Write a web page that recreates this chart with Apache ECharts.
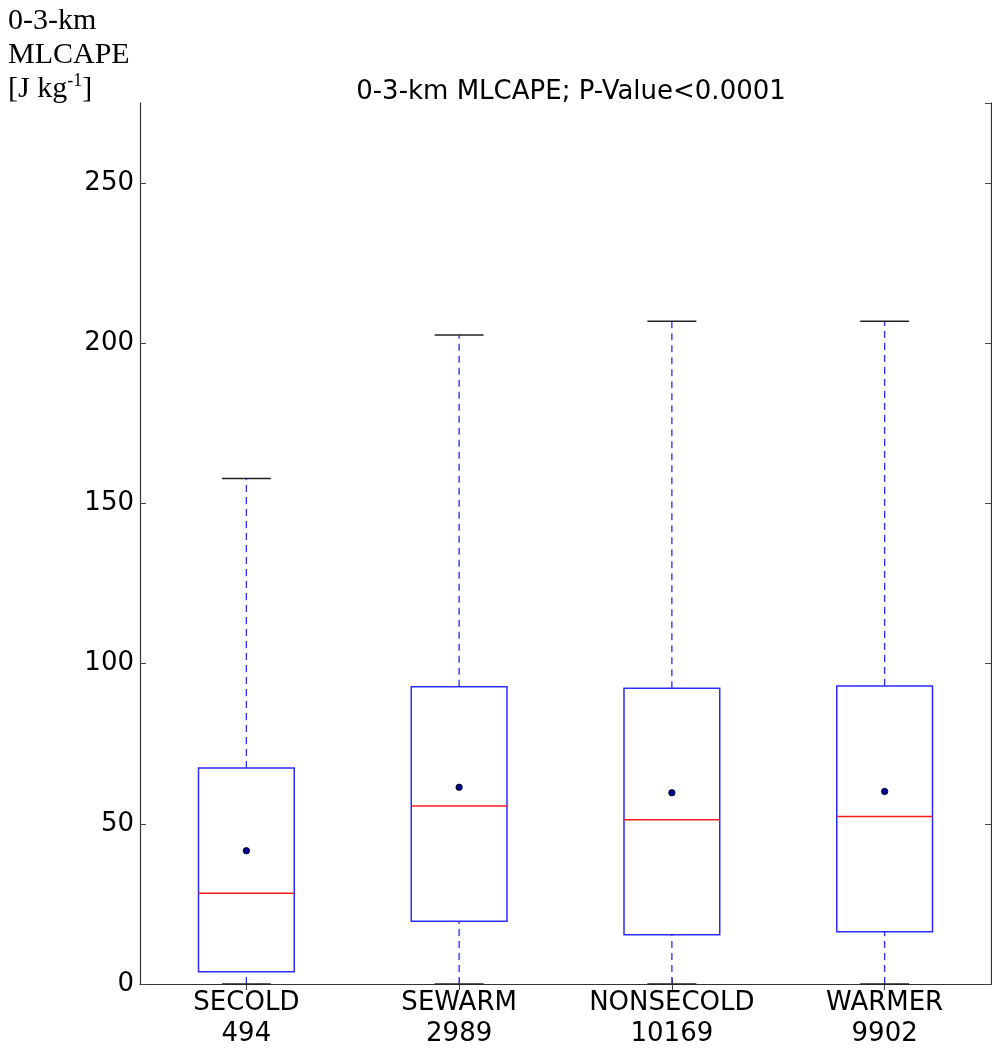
<!DOCTYPE html>
<html>
<head>
<meta charset="utf-8">
<script src="https://cdn.jsdelivr.net/npm/echarts@6/dist/echarts.min.js"></script>
<style>
  html, body { margin: 0; padding: 0; background: #fff; }
  #chart { width: 992px; height: 1051px; }
</style>
</head>
<body>
<div id="chart"></div>
<script>
// box statistics (J kg-1)
var groups = ['SECOLD', 'SEWARM', 'NONSECOLD', 'WARMER']
var counts = [494, 2989, 10169, 9902]
var lowWhisker = [0, 0, 0, 0]
var q1 = [3.8, 19.6, 15.4, 16.3]
var median = [28.3, 55.6, 51.3, 52.3]
var q3 = [67.4, 92.8, 92.3, 93.0]
var highWhisker = [157.8, 202.6, 206.9, 206.9]
var means = [41.6, 61.4, 59.7, 60.1]
var yTicks = [0, 50, 100, 150, 200, 250]

var categories = groups.map(function (g, i) { return g + '\n' + counts[i] })

var boxData = groups.map(function (g, i) {
  return [i, lowWhisker[i], q1[i], median[i], q3[i], highWhisker[i], means[i]]
})

var chart = echarts.init(document.getElementById('chart'))

function renderBox (params, api) {
  var idx = api.value(0)
  var band = api.size([1, 0])[0]
  var boxW = band * 0.45
  var capW = band * 0.23
  var pLow = api.coord([idx, api.value(1)])
  var pQ1 = api.coord([idx, api.value(2)])
  var pMed = api.coord([idx, api.value(3)])
  var pQ3 = api.coord([idx, api.value(4)])
  var pHigh = api.coord([idx, api.value(5)])
  var pMean = api.coord([idx, api.value(6)])
  var cx = pQ1[0]
  var blue = '#2b2bff'
  return {
    type: 'group',
    children: [
      // whiskers (dashed)
      { type: 'line', shape: { x1: cx, y1: pQ3[1], x2: cx, y2: pHigh[1] },
        style: { stroke: blue, lineWidth: 1.3, lineDash: [7, 5] } },
      { type: 'line', shape: { x1: cx, y1: pLow[1], x2: cx, y2: pQ1[1] },
        style: { stroke: blue, lineWidth: 1.3, lineDash: [7, 5] } },
      // caps
      { type: 'line', shape: { x1: cx - capW / 2, y1: pHigh[1], x2: cx + capW / 2, y2: pHigh[1] },
        style: { stroke: '#222', lineWidth: 1.5 } },
      { type: 'line', shape: { x1: cx - capW / 2, y1: pLow[1], x2: cx + capW / 2, y2: pLow[1] },
        style: { stroke: '#222', lineWidth: 1.5 } },
      // box
      { type: 'rect', shape: { x: cx - boxW / 2, y: pQ3[1], width: boxW, height: pQ1[1] - pQ3[1] },
        style: { fill: 'none', stroke: blue, lineWidth: 1.5 } },
      // median
      { type: 'line', shape: { x1: cx - boxW / 2, y1: pMed[1], x2: cx + boxW / 2, y2: pMed[1] },
        style: { stroke: '#ff1a1a', lineWidth: 1.5 } },
      // mean
      { type: 'circle', shape: { cx: pMean[0], cy: pMean[1], r: 3.2 },
        style: { fill: '#000090', stroke: '#000', lineWidth: 0.8 } }
    ]
  }
}

var axisLineStyle = { color: '#333', width: 1.2 }
var tickStyle = { color: '#444', width: 1 }

chart.setOption({
  animation: false,
  backgroundColor: '#fff',
  title: {
    text: '0-3-km MLCAPE; P-Value<0.0001',
    left: 566,
    textAlign: 'center',
    top: 74,
    textStyle: { fontFamily: 'DejaVu Sans', fontSize: 26, fontWeight: 'normal', color: '#000' }
  },
  graphic: [{
    type: 'text',
    left: 8,
    top: 6,
    style: {
      text: '{t|0-3-km}\n{t|MLCAPE}\n{t|[J kg}{s|-1}{t|]}',
      rich: {
        t: { fontFamily: 'Liberation Serif', fontSize: 30, lineHeight: 34, fill: '#000' },
        s: { fontFamily: 'Liberation Serif', fontSize: 18, lineHeight: 34, verticalAlign: 'top', padding: [0, 0, 14, 0], fill: '#000' }
      }
    }
  }],
  grid: { left: 140, right: 1, top: 103, bottom: 67, containLabel: false },
  xAxis: [{
    type: 'category',
    data: categories,
    position: 'bottom',
    axisLine: { show: true, lineStyle: axisLineStyle },
    axisTick: { show: true, inside: true, alignWithLabel: true, length: 6, lineStyle: tickStyle },
    axisLabel: {
      interval: 0,
      fontFamily: 'DejaVu Sans', fontSize: 26, color: '#000', lineHeight: 31, margin: 4
    },
    splitLine: { show: false }
  }, {
    type: 'category',
    data: categories,
    position: 'top',
    axisLine: { show: true, lineStyle: axisLineStyle },
    axisTick: { show: true, inside: true, alignWithLabel: true, length: 6, lineStyle: tickStyle },
    axisLabel: { show: false },
    splitLine: { show: false }
  }],
  yAxis: [{
    type: 'value',
    min: 0,
    max: 275,
    interval: 50,
    position: 'left',
    axisLine: { show: true, lineStyle: axisLineStyle },
    axisTick: { show: true, inside: true, length: 6, lineStyle: tickStyle },
    axisLabel: {
      fontFamily: 'DejaVu Sans', fontSize: 26, color: '#000', margin: 6, showMaxLabel: false,
      formatter: function (v) { return yTicks.indexOf(v) >= 0 ? String(v) : '' }
    },
    splitLine: { show: false }
  }, {
    type: 'value',
    min: 0,
    max: 275,
    interval: 50,
    position: 'right',
    axisLine: { show: true, lineStyle: axisLineStyle },
    axisTick: { show: true, inside: true, length: 6, lineStyle: tickStyle },
    axisLabel: { show: false },
    splitLine: { show: false }
  }],
  series: [{
    type: 'custom',
    name: '0-3-km MLCAPE',
    xAxisIndex: 0,
    yAxisIndex: 0,
    renderItem: renderBox,
    encode: { x: 0, y: [1, 2, 3, 4, 5, 6] },
    data: boxData,
    z: 3
  }]
})
</script>
</body>
</html>
